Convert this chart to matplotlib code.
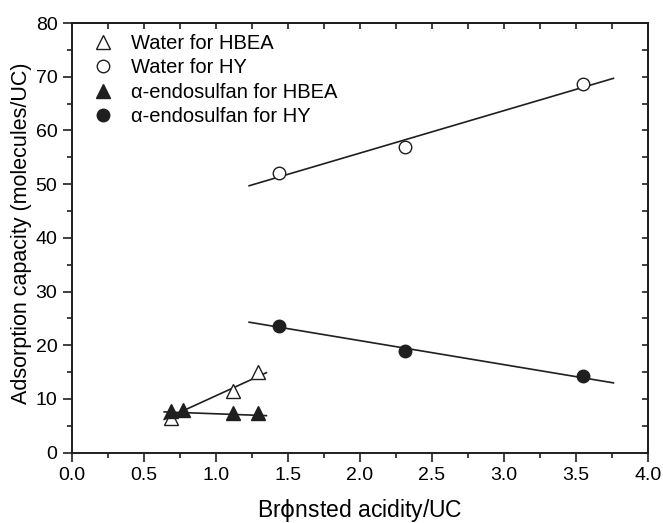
import matplotlib.pyplot as plt
from matplotlib.ticker import MultipleLocator

plt.rcParams['font.family'] = ['Liberation Sans', 'DejaVu Sans']
plt.rcParams['mathtext.fontset'] = 'dejavusans'

# Data
hbea_x = [0.69, 1.12, 1.29]
hbea_water = [6.4, 11.4, 15.0]
hbea_endo_x = [0.69, 0.77, 1.12, 1.29]
hbea_endo = [7.8, 7.9, 7.45, 7.3]

hy_x = [1.44, 2.31, 3.55]
hy_water = [52.1, 56.9, 68.6]
hy_endo = [23.6, 18.9, 14.3]

# fitted lines (end points)
fit_hbea_x = [0.64, 1.35]
fit_hbea_water = [6.2, 14.9]
fit_hbea_endo = [7.6, 6.9]
fit_hy_x = [1.23, 3.76]
fit_hy_water = [49.7, 69.7]
fit_hy_endo = [24.3, 13.0]

xticks = [0, 0.5, 1.0, 1.5, 2.0, 2.5, 3.0, 3.5, 4.0]
xticklabels = ['0.0', '0.5', '1.0', '1.5', '2.0', '2.5', '3.0', '3.5', '4.0']


def main() -> None:
    dark = '#1f1f1f'
    fig = plt.figure(figsize=(6.63, 5.23), dpi=100)
    ax = fig.add_axes([0.1086, 0.1344, 0.8688, 0.8216])

    lw = 1.2
    ax.plot(fit_hbea_x, fit_hbea_water, color=dark, lw=lw)
    ax.plot(fit_hbea_x, fit_hbea_endo, color=dark, lw=lw)
    ax.plot(fit_hy_x, fit_hy_water, color=dark, lw=lw)
    ax.plot(fit_hy_x, fit_hy_endo, color=dark, lw=lw)

    ax.plot(hbea_x, hbea_water, '^', ms=10, mfc='white', mec=dark, mew=1.0,
            ls='none', label='Water for HBEA')
    ax.plot(hy_x, hy_water, 'o', ms=9, mfc='white', mec=dark, mew=1.0,
            ls='none', label='Water for HY')
    ax.plot(hbea_endo_x, hbea_endo, '^', ms=10, mfc=dark, mec=dark,
            ls='none', label='α-endosulfan for HBEA')
    ax.plot(hy_x, hy_endo, 'o', ms=9, mfc=dark, mec=dark,
            ls='none', label='α-endosulfan for HY')

    ax.set_xlim(0, 4.0)
    ax.set_ylim(0, 80)
    ax.set_xticks(xticks)
    ax.set_xticklabels(xticklabels)
    ax.xaxis.set_minor_locator(MultipleLocator(0.25))
    ax.yaxis.set_major_locator(MultipleLocator(10))
    ax.yaxis.set_minor_locator(MultipleLocator(5))

    # bottom / left: outward ticks
    ax.tick_params(which='both', direction='out', color=dark, width=1.2,
                   labelsize=14, pad=4)
    ax.tick_params(which='major', length=6.5)
    ax.tick_params(which='minor', length=3.5)
    for s in ax.spines.values():
        s.set_linewidth(1.4)
        s.set_color(dark)

    # top / right: inward ticks, no labels
    top = ax.secondary_xaxis('top')
    top.set_xticks(xticks)
    top.xaxis.set_minor_locator(MultipleLocator(0.25))
    top.tick_params(which='both', direction='in', labeltop=False, color=dark,
                    width=1.2, length=4)
    top.spines['top'].set_linewidth(1.4)
    top.spines['top'].set_color(dark)
    right = ax.secondary_yaxis('right')
    right.yaxis.set_major_locator(MultipleLocator(10))
    right.yaxis.set_minor_locator(MultipleLocator(5))
    right.tick_params(which='both', direction='in', labelright=False, color=dark,
                      width=1.2, length=4)
    right.spines['right'].set_linewidth(1.4)
    right.spines['right'].set_color(dark)

    ax.set_xlabel(r'Br$\mathrm{\phi}$nsted acidity/UC', fontsize=16.5, labelpad=9)
    ax.set_ylabel('Adsorption capacity (molecules/UC)', fontsize=15.5)
    ax.yaxis.set_label_coords(-0.07, 0.51)

    ax.legend(loc='upper left', frameon=False, fontsize=14.5, handletextpad=0.9,
              labelspacing=0.27, borderaxespad=0, borderpad=0, handlelength=1.0,
              bbox_to_anchor=(0.036, 0.975))

    fig.savefig('out.png', dpi=100)
    plt.close(fig)


if __name__ == "__main__":
    main()
